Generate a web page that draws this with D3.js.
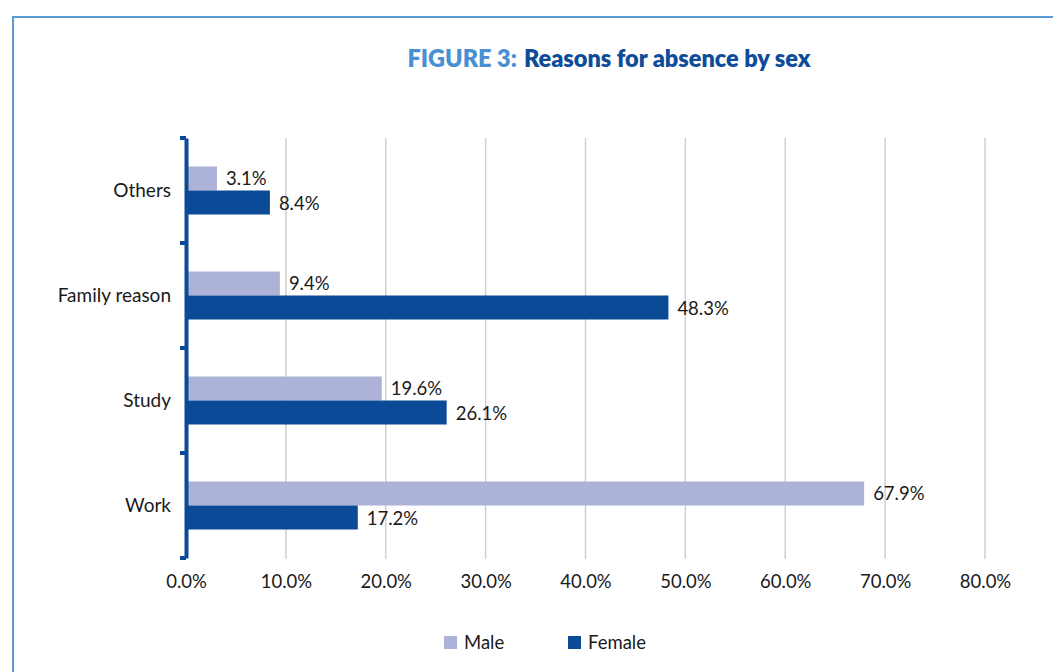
<!DOCTYPE html>
<html>
<head>
<meta charset="utf-8">
<script src="https://cdn.jsdelivr.net/npm/d3@7"></script>
<style>
  html, body { margin: 0; padding: 0; background: #fff; }
  svg { display: block; }
</style>
</head>
<body>
<svg id="chart" width="1053" height="672"></svg>
<script>
// Share of absences by reason, split by sex (percent)
const categories = ["Others", "Family reason", "Study", "Work"];
const maleValues = [3.1, 9.4, 19.6, 67.9];
const femaleValues = [8.4, 48.3, 26.1, 17.2];
const seriesNames = ["Male", "Female"];
const tickValues = [0, 10, 20, 30, 40, 50, 60, 70, 80];

const colors = { Male: "#adb3d8", Female: "#0b4a96" };
const font = "'Lato', 'Open Sans', sans-serif";

const svg = d3.select("#chart");
const W = 1053, H = 672;
const margin = { top: 138, left: 186, right: 68, bottom: 114 };

// outer frame
svg.append("path")
  .attr("d", `M${W},17 H13 V${H}`)
  .attr("fill", "none")
  .attr("stroke", "#5b9bd5")
  .attr("stroke-width", 2);

// title: two runs in different blues, laid out side by side and centred
const titleG = svg.append("g");
const t1 = titleG.append("text")
  .attr("y", 67)
  .attr("font-family", font).attr("font-weight", 800).attr("font-size", 23.5)
  .attr("fill", "#4a8fd2")
  .text("FIGURE 3:");
const t2 = titleG.append("text")
  .attr("y", 67)
  .attr("font-family", font).attr("font-weight", 800).attr("font-size", 23.5)
  .attr("fill", "#0d4c99")
  .text("Reasons for absence by sex");
const w1 = t1.node().getComputedTextLength();
const w2 = t2.node().getComputedTextLength();
const gap = 7;
const startX = 609 - (w1 + gap + w2) / 2;
t1.attr("x", startX);
t2.attr("x", startX + w1 + gap);

const x = d3.scaleLinear().domain([0, 80]).range([margin.left, W - margin.right]);
const y = d3.scaleBand().domain(categories).range([margin.top, H - margin.bottom]);
const inner = d3.scaleBand().domain(seriesNames).range([0, y.bandwidth()]).paddingOuter(1.1875);

// vertical gridlines
svg.append("g").selectAll("line")
  .data(tickValues.filter(d => d > 0))
  .join("line")
  .attr("x1", d => x(d)).attr("x2", d => x(d))
  .attr("y1", margin.top).attr("y2", H - margin.bottom + 1)
  .attr("stroke", "#cfcfcf")
  .attr("stroke-width", 1.5);

// bars
const rows = categories.map((c, i) => ({ cat: c, Male: maleValues[i], Female: femaleValues[i] }));
const bars = [];
rows.forEach(r => seriesNames.forEach(s => bars.push({ cat: r.cat, series: s, value: r[s] })));

svg.append("g").selectAll("rect")
  .data(bars)
  .join("rect")
  .attr("x", x(0))
  .attr("y", d => y(d.cat) + inner(d.series))
  .attr("width", d => x(d.value) - x(0))
  .attr("height", inner.bandwidth())
  .attr("fill", d => colors[d.series]);

// value labels
svg.append("g").selectAll("text")
  .data(bars)
  .join("text")
  .attr("x", d => x(d.value) + 9)
  .attr("y", d => y(d.cat) + inner(d.series) + inner.bandwidth() / 2 + (d.series === "Male" ? 0 : 1))
  .attr("dy", "0.35em")
  .attr("font-family", font)
  .attr("font-size", 18.5)
  .attr("fill", "#1a1a1a")
  .text(d => d.value.toFixed(1) + "%");

// category axis
const yAxis = svg.append("g")
  .attr("transform", `translate(${margin.left},0)`)
  .call(d3.axisLeft(y).tickSize(0).tickPadding(15));
yAxis.select(".domain")
  .attr("stroke", "#0b4a96")
  .attr("stroke-width", 4);
yAxis.selectAll("text")
  .attr("font-family", font)
  .attr("font-size", 19)
  .attr("fill", "#1a1a1a");

// boundary ticks on the category axis
const boundaries = categories.map(c => y(c)).concat([y.range()[1]]);
svg.append("g").selectAll("line")
  .data(boundaries)
  .join("line")
  .attr("x1", margin.left - 6).attr("x2", margin.left)
  .attr("y1", d => d).attr("y2", d => d)
  .attr("stroke", "#0b4a96")
  .attr("stroke-width", 4);

// value axis labels
const xAxis = svg.append("g")
  .attr("transform", `translate(0,${H - margin.bottom})`)
  .call(d3.axisBottom(x).tickValues(tickValues).tickSize(0).tickPadding(17)
    .tickFormat(d => d.toFixed(1) + "%"));
xAxis.select(".domain").remove();
xAxis.selectAll("text")
  .attr("font-family", font)
  .attr("font-size", 18.5)
  .attr("fill", "#1a1a1a");

// legend
const legend = svg.append("g");
const legendX = [444, 568];
seriesNames.forEach((s, i) => {
  const g = legend.append("g").attr("transform", `translate(${legendX[i]},636)`);
  g.append("rect").attr("width", 13).attr("height", 13).attr("fill", colors[s]);
  g.append("text")
    .attr("x", 20).attr("y", 6.5).attr("dy", "0.35em")
    .attr("font-family", font)
    .attr("font-size", 18.5)
    .attr("fill", "#1a1a1a")
    .text(s);
});
</script>
</body>
</html>
